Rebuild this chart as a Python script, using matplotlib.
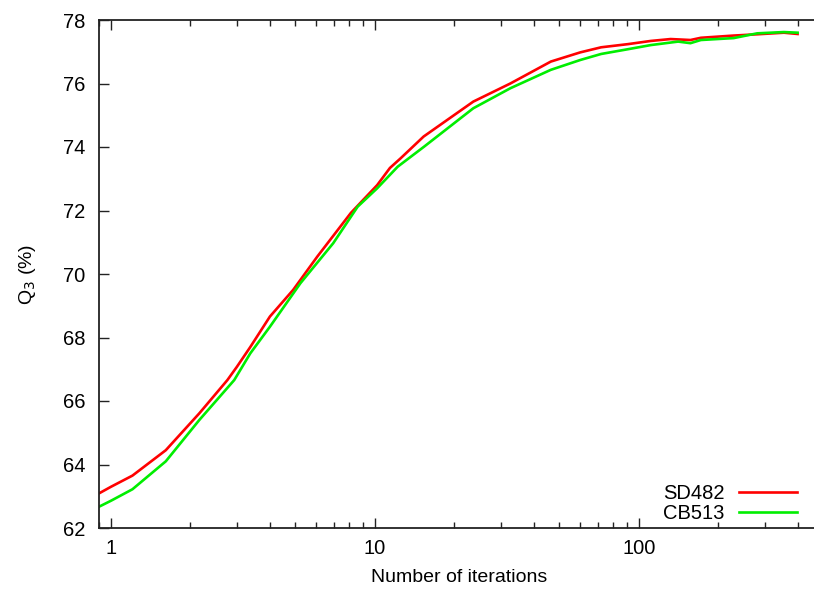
import numpy as np
import matplotlib
matplotlib.use("Agg")
import matplotlib.pyplot as plt

plt.rcParams['font.family'] = ['Liberation Sans', 'DejaVu Sans']

# iterations (log axis) and Q3 accuracy
iters_sd = [0.9, 1.0, 1.205, 1.612, 2.159, 2.76, 3.0, 3.37, 4.0, 4.9, 6.05,
            8.1, 10.2, 11.4, 12.5, 15.3, 23.6, 32.6, 46.4, 60, 72, 91, 111, 132,
            157, 172, 229, 281, 355, 400]
q3_sd482 = [63.09, 63.30, 63.65, 64.45, 65.61, 66.66, 67.08, 67.70, 68.66,
            69.50, 70.55, 71.92, 72.80, 73.34, 73.64, 74.33, 75.43, 76.00, 76.69,
            76.98, 77.14, 77.24, 77.34, 77.40, 77.37, 77.44, 77.51, 77.55, 77.60,
            77.56]

iters_cb = [0.9, 1.0, 1.205, 1.612, 2.159, 2.93, 3.37, 4.0, 5.22, 6.95,
            8.6, 10.2, 12.2, 15.3, 23.6, 32.6, 46.4, 60, 72, 91, 111, 141, 157,
            172, 229, 281, 355, 400]
q3_cb513 = [62.67, 62.86, 63.22, 64.10, 65.40, 66.66, 67.50, 68.34, 69.71,
            70.97, 72.12, 72.70, 73.38, 74.00, 75.22, 75.85, 76.43, 76.74, 76.93,
            77.08, 77.21, 77.32, 77.27, 77.37, 77.43, 77.58, 77.62, 77.60]

yticks = [62, 64, 66, 68, 70, 72, 74, 76, 78]

fig = plt.figure(figsize=(8.14, 5.92), dpi=100)
ax = fig.add_axes([99/814, 1 - 528/592, 720/814, 508/592])

ax.plot(iters_sd, q3_sd482, color='#ff0000', lw=1.9, label='SD482')
ax.plot(iters_cb, q3_cb513, color='#00ee00', lw=1.9, label='CB513')

ax.set_xscale('log')
ax.set_xlim(0.9, 10 ** ((818 - 111) / 263.5))
ax.set_ylim(62, 78)
ax.set_yticks(yticks)
ax.set_xticks([1, 10, 100])
ax.set_xticklabels(['1', '10', '100'])
ax.xaxis.set_minor_locator(matplotlib.ticker.LogLocator(subs=np.arange(2, 10)))
ax.xaxis.set_minor_formatter(matplotlib.ticker.NullFormatter())

for s in ax.spines.values():
    s.set_linewidth(1.3)
    s.set_color('#222222')
ax.tick_params(which='both', direction='in', top=True, right=False,
               labelsize=14.5, width=1.0, color='#222222')
ax.tick_params(which='major', length=7, pad=10)
ax.tick_params(which='minor', length=4)
ax.tick_params(axis='x', which='major', pad=8)

ax.set_xlabel('Number of iterations', fontsize=14, labelpad=8)
ax.set_ylabel('Q$_3$ (%)', fontsize=14, labelpad=18)

ax.legend(loc='lower right', bbox_to_anchor=(797/814, 1 - 523/592),
          bbox_transform=fig.transFigure, frameon=False, markerfirst=False,
          fontsize=14.5, handlelength=2.9, labelspacing=0.05, borderpad=0,
          borderaxespad=0, handletextpad=0.7)

fig.savefig('out.png', dpi=100)
